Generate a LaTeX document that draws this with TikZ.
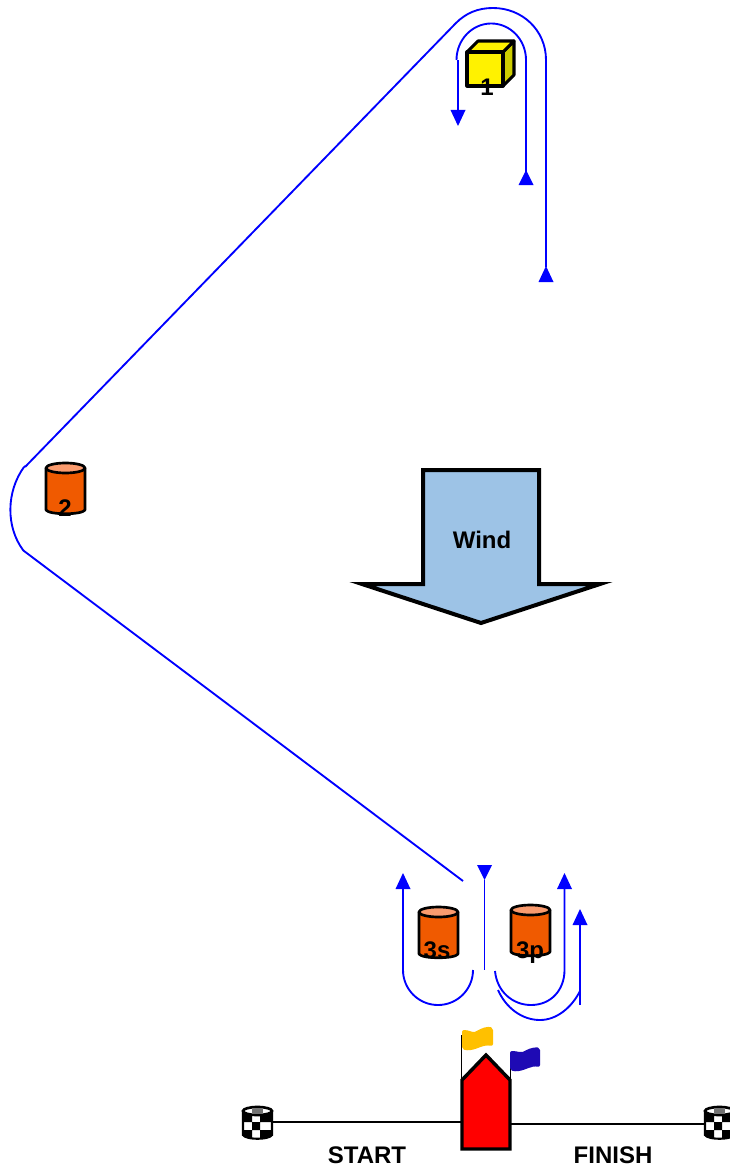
\documentclass[tikz,border=0pt]{standalone}
\usepackage{fontspec}
\setmainfont{Liberation Sans}
\definecolor{course}{RGB}{0,0,255}
\definecolor{buoybody}{RGB}{240,90,0}
\definecolor{buoytop}{RGB}{250,155,110}
\definecolor{windfill}{RGB}{157,195,230}
\definecolor{cubeside}{RGB}{205,205,0}
\definecolor{flagyellow}{RGB}{255,192,0}
\definecolor{flagblue}{RGB}{30,10,180}
\tikzset{
  courseline/.style={draw=course,line width=1.4pt},
  headblue/.style={fill=course,draw=none},
  outline/.style={draw=black,line width=2pt,line join=round},
  cubeline/.style={draw=black,line width=2.3pt,line join=round},
  lbl/.style={font=\fontsize{18}{18}\selectfont\bfseries,inner sep=0pt,anchor=base,text=black},
  thinblack/.style={draw=black,line width=1.3pt}
}
% orange cylinder: left x, top y, bottom y
\newcommand{\buoy}[3]{%
  \path[outline,fill=buoybody] (#1,#2+5) -- (#1,#3-4) .. controls (#1+3,#3+1) and (#1+36,#3+1) .. (#1+39,#3-4) -- (#1+39,#2+5) -- cycle;
  \path[outline,fill=buoytop] (#1+19.5,#2+5) ellipse [x radius=19.5,y radius=5];
}
% chequered cylinder: left x
\newcommand{\chequer}[1]{%
  \begin{scope}
    \clip (#1,1112) -- (#1,1135) .. controls (#1+3,1140) and (#1+26,1140) .. (#1+29,1135) -- (#1+29,1112) -- cycle;
    \fill[white] (#1,1107) rectangle (#1+29,1140);
    \fill[black] (#1,1112) rectangle (#1+9,1122) (#1+17,1112) rectangle (#1+29,1122)
                 (#1+9,1122) rectangle (#1+17,1130)
                 (#1,1130) rectangle (#1+9,1140) (#1+17,1130) rectangle (#1+29,1140);
  \end{scope}
  \path[draw=black,line width=1.6pt] (#1,1112) -- (#1,1135) .. controls (#1+3,1140) and (#1+26,1140) .. (#1+29,1135) -- (#1+29,1112);
  \path[draw=black,line width=2pt,fill=white] (#1+14.5,1111) ellipse [x radius=14.5,y radius=4];
  \fill[black!55] (#1+9,1108) rectangle (#1+20,1113.5);
}
\begin{document}
\begin{tikzpicture}[x=0.75pt,y=-0.75pt]
\clip (0,0) rectangle (730,1170);
\fill[white] (0,0) rectangle (730,1170);

% windward mark (cube)
\path[cubeline,fill=cubeside] (503,52) -- (514,41) -- (514,75) -- (503,86) -- cycle;
\path[cubeline,fill=yellow] (467,52) -- (478,41) -- (514,41) -- (503,52) -- cycle;
\path[cubeline,fill=yellow] (467,52) rectangle (503,86);
\node[lbl] (m1) at (487,96) {1};

% wing mark
\buoy{46}{463}{514}
\node[lbl] (m2) at (65,516) {2};

% leeward gate
\buoy{419}{907}{958}
\node[lbl] (m3s) at (437,958) {3s};
\buoy{511}{905}{956}
\node[lbl] (m3p) at (530,958) {3p};

% course
\coordinate (a1) at (458,60);
\coordinate (a2) at (526,60);
\coordinate (a3) at (546,60);
\coordinate (b1) at (25,467);
\coordinate (b2) at (24,551);
\coordinate (c1) at (463,881);

\draw[courseline] (458,110) -- (a1);
\draw[courseline] (456.5,60) arc[start angle=180,end angle=360,x radius=34.75,y radius=36.5];
\draw[courseline] (a2) -- (526,185);
\fill[headblue] (450.5,110) -- (465.5,110) -- (458,126) -- cycle;
\fill[headblue] (518.5,185) -- (533.5,185) -- (526,170) -- cycle;

\draw[courseline] (a3) -- (546,267);
\fill[headblue] (538.5,282) -- (553.5,282) -- (546,266) -- cycle;
\draw[courseline] (a3) .. controls (546,30) and (522,8) .. (493,8)
   .. controls (478,8) and (466,13) .. (456,23) -- (b1);
\draw[courseline] (b1) -- ++(-1,-1) (24,467) .. controls (6,492) and (6,527) .. (23,550) -- (b2) -- (c1);

% leeward part of the course
\draw[courseline] (484.5,880) -- (484.5,970);
\fill[headblue] (477,865) -- (492,865) -- (484.5,880) -- cycle;

\draw[courseline] (403,888) -- (403,970) arc[start angle=180,end angle=0,x radius=35,y radius=35];
\fill[headblue] (395.5,889) -- (410.5,889) -- (403,873) -- cycle;

\draw[courseline] (495,971) .. controls (497,992) and (513,1005) .. (531,1005)
   .. controls (551,1005) and (564.5,990) .. (564.5,970) -- (564.5,888);
\fill[headblue] (557,889) -- (572,889) -- (564.5,873) -- cycle;

\draw[courseline] (498,990) .. controls (506,1008) and (522,1020) .. (540,1020)
   .. controls (557,1020) and (572,1007) .. (580,991);
\draw[courseline] (580,1005) -- (580,924);
\fill[headblue] (572.5,925) -- (587.5,925) -- (580,909) -- cycle;

% wind arrow
\path[draw=black,line width=3pt,line join=miter,fill=windfill]
  (423,470) -- (539,470) -- (539,584) -- (600,584) -- (481,623) -- (362,584) -- (423,584) -- cycle;
\node[lbl] (wind) at (482,548) {Wind};

% start/finish line
\chequer{243}
\chequer{705}
\coordinate (ls) at (272,1122);
\coordinate (lf) at (705,1124);
\draw[thinblack] (ls) -- (461,1122);
\draw[thinblack] (511,1124) -- (lf);

% committee boat
\draw[thinblack] (461.5,1035) -- (461.5,1115);
\draw[thinblack] (510.5,1063) -- (510.5,1120);
\path[draw=black,line width=2.6pt,miter limit=10,fill=red]
  (462,1080) -- (486,1055) -- (510,1080) -- (510,1149) -- (462,1149) -- cycle;
\fill[flagyellow,rounded corners=1.5pt] (462,1030) .. controls (470,1030) and (472,1033) .. (477,1031)
  .. controls (482,1028) and (488,1026) .. (493,1028) -- (493,1046)
  .. controls (487,1045) and (483,1046) .. (478,1048)
  .. controls (472,1050) and (468,1051) .. (462,1049) -- cycle;
\fill[flagblue,rounded corners=1.5pt] (510,1051) .. controls (518,1051) and (520,1053) .. (525,1051)
  .. controls (530,1048) and (536,1047) .. (540,1048) -- (540,1067)
  .. controls (534,1066) and (531,1067) .. (526,1069)
  .. controls (520,1071) and (516,1072) .. (510,1070) -- cycle;

\node[lbl] (start) at (367,1163) {START};
\node[lbl] (finish) at (613,1163) {FINISH};
\end{tikzpicture}
\end{document}
